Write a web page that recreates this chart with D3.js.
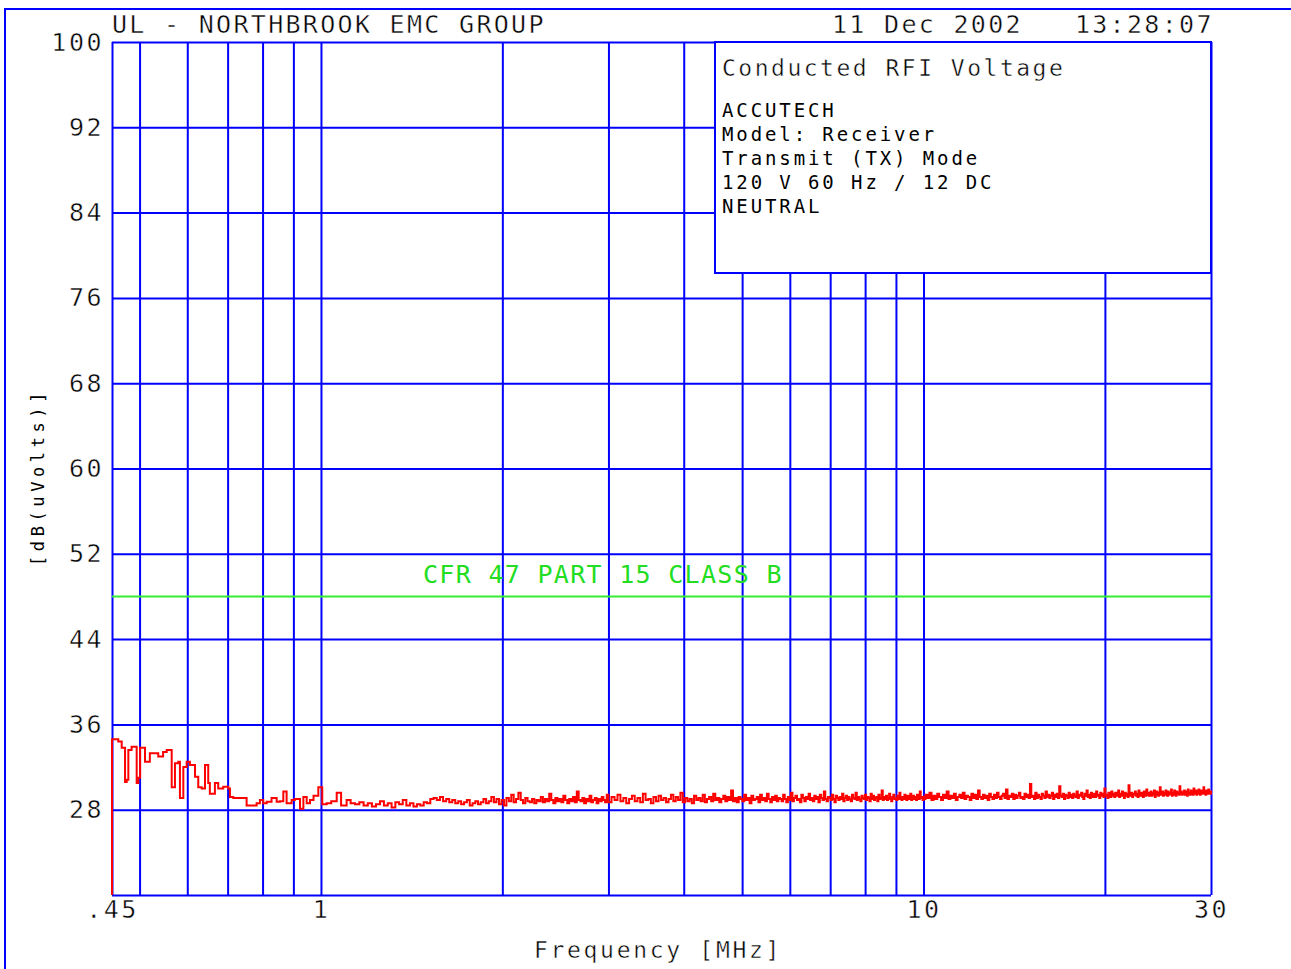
<!DOCTYPE html>
<html>
<head>
<meta charset="utf-8">
<script src="https://cdn.jsdelivr.net/npm/d3@7"></script>
<style>
body { margin: 0; background: #fff; }
text { font-family: "DejaVu Sans Mono", monospace; fill: #000; }
text.thin { stroke: #fff; stroke-width: 0.45px; }
</style>
</head>
<body>
<svg id="chart" width="1291" height="969"></svg>
<script>
// axis ticks
const yTicks = [100, 92, 84, 76, 68, 60, 52, 44, 36, 28];
const yGrid = [100, 92, 84, 76, 68, 60, 52, 44, 36, 28, 20];
const xTicks = [0.45, 1, 10, 30];
const xTickLabels = ['.45', '1', '10', '30'];
const xGrid = [0.45, 0.5, 0.6, 0.7, 0.8, 0.9, 1, 2, 3, 4, 5, 6, 7, 8, 9, 10, 20, 30];

// limit line (dB uV)
const limitLevel = 48;
const limitLabel = 'CFR 47 PART 15 CLASS B';

const legendLines = ['ACCUTECH', 'Model: Receiver', 'Transmit (TX) Mode', '120 V 60 Hz / 12 DC', 'NEUTRAL'];

// start of the trace, read point by point (MHz, dBuV)
const lowFreq = [0.450, 0.450, 0.461, 0.467, 0.473, 0.476, 0.479, 0.485, 0.491, 0.4945, 0.4975, 0.501,
  0.5105, 0.520, 0.530, 0.537, 0.547, 0.5546, 0.5615, 0.5653, 0.5724, 0.5797, 0.5834, 0.591, 0.5986,
  0.606, 0.618, 0.6257, 0.634, 0.642, 0.650, 0.654, 0.6668, 0.6753, 0.6884, 0.7017, 0.7063, 0.7153,
  0.743, 0.7527, 0.765, 0.782, 0.792, 0.802, 0.8127, 0.828, 0.8443, 0.855, 0.866, 0.877, 0.894, 0.905,
  0.923, 0.935, 0.947, 0.959, 0.972, 0.990, 1.005, 1.022, 1.040, 1.062, 1.080, 1.103];
const lowLevel = [20, 34.6, 34.4, 33.8, 30.6, 30.8, 33.6, 33.9, 33.9, 30.5, 31.0, 33.8,
  32.5, 33.3, 33.3, 33.0, 33.4, 33.6, 33.6, 30.1, 32.35, 32.5, 29.1, 32.0, 32.5,
  32.2, 31.1, 30.1, 30.0, 32.2, 30.5, 29.5, 30.5, 30.0, 30.15, 30.0, 29.2, 29.1,
  29.1, 28.4, 28.4, 28.6, 28.9, 28.6, 28.75, 29.1, 28.75, 28.8, 29.7, 28.6, 28.9, 29.0,
  28.1, 29.2, 28.6, 28.9, 29.3, 30.1, 28.5, 28.6, 28.8, 29.6, 28.4, 28.9];

// swept part of the trace: [start, stop] MHz with the levels read across it
const sweepA = [1.12, 3.0];
const levelsA = [28.6, 28.5, 28.7, 28.4, 28.6, 28.3, 28.5, 28.8, 28.4, 28.6, 28.2, 28.7, 28.5, 28.9, 28.4, 28.6, 28.3, 28.5, 28.4, 28.7, 28.6,
  29.0, 29.1, 28.9, 29.2, 28.8, 29.0, 28.7, 28.9, 28.6, 28.8, 28.5, 28.7, 28.9, 28.4, 28.6, 28.8, 28.5, 28.7, 29.0, 28.6, 28.8, 29.2, 28.7, 29.0, 28.5, 28.9,
  28.4, 29.1, 28.8, 29.4, 28.7, 29.0, 29.6, 28.9, 28.6, 29.1, 28.8, 28.7, 29.0, 28.6, 28.9, 28.8, 29.2, 28.7, 29.0, 28.8,
  29.5, 28.9, 28.6, 29.1, 28.8, 29.0, 28.7, 29.3, 28.9, 28.6, 29.0, 28.8, 29.2, 28.7, 29.7, 28.9, 28.8, 29.1, 28.6, 29.0,
  28.8, 29.3, 28.7, 28.9, 29.1, 28.6, 29.0, 28.8, 29.2, 28.9, 28.7, 29.4, 28.9];

const sweepB = [3.0, 10.0];
const levelsB = [28.7, 29.2, 28.9, 29.4, 28.8, 29.1, 28.6, 29.0, 29.3, 28.8, 29.1, 28.7, 29.5, 28.9, 29.0, 28.6, 29.2, 28.8, 29.3, 28.9,
  29.1, 28.7, 29.0, 29.4, 28.8, 29.2, 28.9, 29.6, 28.7, 29.1, 28.8, 29.0, 28.6, 29.3, 28.9, 29.1, 28.8, 29.4, 28.7, 29.0,
  29.2, 28.8, 29.5, 28.9, 29.1, 28.7, 29.0, 29.3, 28.8, 29.2, 28.9, 29.8, 28.8, 29.1, 28.7, 29.2, 29.0, 28.8, 29.4, 28.9,
  29.1, 28.6, 29.3, 28.9, 29.0, 29.2, 28.7, 29.4, 28.9, 29.1, 28.8, 29.5, 29.0, 28.7, 29.2, 28.9, 29.3, 28.8, 29.1, 29.0,
  28.8, 29.4, 29.0, 28.7, 29.2, 28.9, 29.6, 28.8, 29.1, 29.3, 28.9, 29.0, 28.7, 29.4, 29.1, 28.8, 29.2, 29.0, 29.5, 28.9,
  29.1, 28.8, 29.3, 29.0, 29.2, 28.7, 29.4, 29.1, 28.9, 29.7, 29.0, 28.8, 29.2, 29.1, 28.9, 29.4, 29.0, 28.7, 29.3, 29.1,
  28.9, 29.2, 29.0, 29.5, 28.8, 29.1, 29.3, 28.9, 29.2, 29.0, 28.8, 29.4, 29.1, 29.0, 29.6, 28.9, 29.2, 29.0, 28.8, 29.3,
  29.1, 29.0, 29.4, 28.9, 29.2, 29.1, 28.8, 29.5, 29.0, 29.3, 28.9, 29.1, 29.2, 28.8, 29.4, 29.0, 29.1, 29.8, 28.9, 29.2,
  29.0, 29.3, 28.9, 29.1, 29.5, 29.0, 28.8, 29.2, 29.4, 29.0, 29.1, 28.9, 29.3, 29.0, 29.6, 29.1, 28.9, 29.2, 29.0, 29.4,
  29.1, 28.9, 29.3, 29.0, 29.2, 29.5, 28.9, 29.1, 29.3, 29.0, 29.2, 28.9, 29.4, 29.1, 29.0, 29.7, 29.1, 29.2, 28.9, 29.3];

const sweepC = [10.0, 30.0];
const levelsC = [29.0, 29.4, 29.1, 29.6, 28.9, 29.3, 29.0, 29.5, 29.2, 28.9, 29.4, 29.1, 29.7, 29.0, 29.3, 29.1, 29.5, 28.9, 29.2, 29.4,
  29.1, 29.6, 29.0, 29.3, 29.2, 28.9, 29.5, 29.1, 29.4, 29.0, 29.8, 29.2, 29.0, 29.4, 29.1, 29.3, 28.9, 29.5, 29.2, 29.0,
  29.4, 29.1, 29.6, 29.2, 29.0, 29.3, 29.5, 29.1, 29.9, 29.0, 29.3, 29.2, 29.5, 29.0, 29.4, 29.1, 29.3, 29.6, 29.1, 29.2,
  29.0, 29.5, 29.2, 29.4, 29.1, 30.4, 29.2, 29.3, 29.0, 29.6, 29.1, 29.4, 29.2, 29.0, 29.5, 29.3, 29.1, 29.7, 29.2, 29.4,
  29.1, 29.3, 29.6, 29.0, 29.4, 29.2, 29.5, 29.1, 30.2, 29.3, 29.2, 29.5, 29.0, 29.4, 29.3, 29.1, 29.6, 29.2, 29.4, 29.1,
  29.5, 29.3, 29.2, 29.7, 29.1, 29.4, 29.3, 29.6, 29.2, 29.0, 29.5, 29.3, 29.8, 29.2, 29.4, 29.1, 29.6, 29.3, 29.2, 29.5,
  29.2, 29.7, 29.3, 29.4, 29.1, 29.6, 29.3, 29.5, 29.2, 30.0, 29.3, 29.4, 29.1, 29.6, 29.4, 29.2, 29.7, 29.3, 29.5, 29.2,
  29.6, 29.3, 29.4, 29.8, 29.2, 29.5, 29.3, 29.7, 29.4, 29.1, 29.6, 29.3, 29.5, 29.2, 30.3, 29.4, 29.3, 29.6, 29.2, 29.5,
  29.4, 29.7, 29.3, 29.5, 29.2, 29.8, 29.4, 29.3, 29.6, 29.5, 29.2, 29.7, 29.4, 29.3, 29.9, 29.4, 29.6, 29.3, 29.5, 29.7,
  29.3, 29.6, 29.4, 29.8, 29.2, 29.5, 29.7, 29.4, 29.3, 29.6, 30.1, 29.4, 29.5, 29.7, 29.3, 29.6, 29.4, 29.8, 29.5, 29.3,
  29.7, 29.4, 29.6, 29.5, 29.9, 29.3, 29.6, 29.4, 29.8, 29.5, 29.3, 29.7, 29.5, 29.6, 29.4, 30.2, 29.5, 29.7, 29.4, 29.6,
  29.5, 29.8, 29.4, 29.6, 29.7, 29.3, 29.9, 29.5, 29.6, 29.4, 29.8, 29.5, 29.7, 29.4, 30.0, 29.6, 29.5, 29.8, 29.4, 29.7,
  29.5, 29.9, 29.6, 29.4, 29.8, 29.5, 29.7, 29.6, 30.1, 29.5, 29.7, 29.4, 29.8, 29.6, 29.5, 29.9, 29.6, 29.7, 29.5, 29.8];

const blue = '#0000ff';
const plotLeft = 112, plotRight = 1211, plotTop = 42, plotBottom = 895;

const svg = d3.select('#chart');
svg.append('rect').attr('width', 1291).attr('height', 969).attr('fill', '#fff');

const x = d3.scaleLog().domain([0.45, 30]).range([plotLeft, plotRight]);
const y = d3.scaleLinear().domain([20, 100]).range([plotBottom, plotTop]);

// outer frame (only top and left edges show)
svg.append('path')
    .attr('d', 'M5,969V9H1291')
    .attr('fill', 'none')
    .attr('stroke', blue)
    .attr('stroke-width', 2);

// grid
svg.append('g')
    .attr('transform', `translate(0,${plotBottom})`)
    .call(d3.axisBottom(x).tickValues(xGrid).tickSize(-(plotBottom - plotTop)).tickFormat(''))
    .call(g => g.select('.domain').remove())
    .selectAll('line').attr('stroke', blue).attr('stroke-width', 2);

svg.append('g')
    .attr('transform', `translate(${plotLeft},0)`)
    .call(d3.axisLeft(y).tickValues(yGrid).tickSize(-(plotRight - plotLeft)).tickFormat(''))
    .call(g => g.select('.domain').remove())
    .selectAll('line').attr('stroke', blue).attr('stroke-width', 2);

// tick labels
svg.append('g')
    .attr('transform', `translate(${plotLeft},0)`)
    .call(d3.axisLeft(y).tickValues(yTicks).tickSize(0).tickPadding(8).tickFormat(d3.format('d')))
    .call(g => g.select('.domain').remove())
    .selectAll('text')
    .attr('class', 'thin')
    .attr('fill', '#000')
    .style('font-family', '"DejaVu Sans Mono", monospace')
    .style('font-size', '25px')
    .style('letter-spacing', '2.5px');

svg.append('g')
    .attr('transform', `translate(0,${plotBottom})`)
    .call(d3.axisBottom(x).tickValues(xTicks).tickSize(0).tickPadding(5).tickFormat((d, i) => xTickLabels[i]))
    .call(g => g.select('.domain').remove())
    .selectAll('text')
    .attr('class', 'thin')
    .attr('fill', '#000')
    .style('font-family', '"DejaVu Sans Mono", monospace')
    .style('font-size', '25px')
    .style('letter-spacing', '2.5px');

// limit line
svg.append('line')
    .attr('x1', x(0.45)).attr('x2', x(30))
    .attr('y1', y(limitLevel)).attr('y2', y(limitLevel))
    .attr('stroke', '#33ee33')
    .attr('stroke-width', 2);

svg.append('text')
    .attr('x', 423)
    .attr('y', 583)
    .style('fill', '#22dd22')
    .style('font-size', '25px')
    .style('letter-spacing', '1.3px')
    .text(limitLabel);

// trace
const points = lowFreq.map((f, i) => ({ f: f, v: lowLevel[i] }));
[[sweepA, levelsA], [sweepB, levelsB], [sweepC, levelsC]].forEach(([span, levels]) => {
    levels.forEach((v, i) => {
        points.push({ f: span[0] + (span[1] - span[0]) * i / (levels.length - 1), v: v });
    });
});

svg.append('path')
    .datum(points)
    .attr('fill', 'none')
    .attr('stroke', '#ff0000')
    .attr('stroke-width', 2)
    .attr('d', d3.line().x(d => x(d.f)).y(d => y(d.v)).curve(d3.curveStepAfter));

// legend box
svg.append('rect')
    .attr('x', 715).attr('y', plotTop)
    .attr('width', plotRight - 715).attr('height', 231)
    .attr('fill', '#fff')
    .attr('stroke', blue)
    .attr('stroke-width', 2);

svg.append('text')
    .attr('class', 'thin')
    .attr('x', 722).attr('y', 76)
    .style('font-size', '23px')
    .style('letter-spacing', '2.5px')
    .text('Conducted RFI Voltage');

svg.append('g').selectAll('text')
    .data(legendLines)
    .enter()
    .append('text')
    .attr('x', 722)
    .attr('y', (d, i) => 117 + i * 24)
    .style('font-size', '19px')
    .style('letter-spacing', '2.9px')
    .text(d => d);

// header
svg.append('text')
    .attr('class', 'thin')
    .attr('x', 112).attr('y', 33)
    .style('font-size', '25px')
    .style('letter-spacing', '2.3px')
    .text('UL - NORTHBROOK EMC GROUP');

svg.append('text')
    .attr('class', 'thin')
    .attr('x', 832).attr('y', 33)
    .style('font-size', '25px')
    .style('letter-spacing', '2.3px')
    .style('white-space', 'pre')
    .text('11 Dec 2002   13:28:07');

// axis titles
svg.append('text')
    .attr('class', 'thin')
    .attr('x', 658).attr('y', 958)
    .attr('text-anchor', 'middle')
    .style('font-size', '23px')
    .style('letter-spacing', '2.7px')
    .text('Frequency [MHz]');

svg.append('text')
    .attr('transform', 'translate(44,477) rotate(-90)')
    .attr('text-anchor', 'middle')
    .style('font-size', '17px')
    .style('letter-spacing', '4.6px')
    .text('[dB(uVolts)]');
</script>
</body>
</html>
